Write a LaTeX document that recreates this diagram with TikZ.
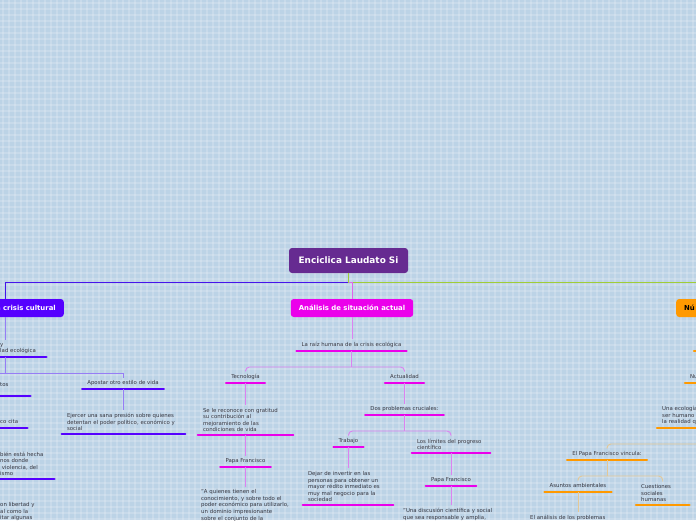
\documentclass[tikz,border=0pt]{standalone}
\usepackage{fontspec}
\setmainfont{DejaVu Sans}
\usetikzlibrary{positioning}
\definecolor{bgblue}{RGB}{188,211,230}
\definecolor{laudatopurple}{RGB}{102,43,145}
\definecolor{crisisblue}{RGB}{85,0,255}
\definecolor{analisismag}{RGB}{235,0,235}
\definecolor{nucleoorange}{RGB}{255,153,0}
\definecolor{mainblue}{RGB}{70,20,235}
\definecolor{maingreen}{RGB}{160,205,55}
\definecolor{mainmag}{RGB}{225,100,235}
\definecolor{crisislink}{RGB}{150,125,245}
\definecolor{analisislink}{RGB}{220,130,240}
\definecolor{nucleolink}{RGB}{228,200,150}
\definecolor{textgray}{RGB}{55,55,65}

\begin{document}
\begin{tikzpicture}[x=1pt, y=-1pt,
    mainbox/.style={rectangle, rounded corners=3pt, fill=#1, text=white, font=\fontsize{6.9}{8}\selectfont\bfseries, minimum height=18pt, inner xsep=8pt},
    topic/.style={font=\fontsize{5.4}{6.6}\selectfont, text=textgray, inner xsep=5pt, inner ysep=2.8pt, align=center,
      append after command={(\tikzlastnode.south west) edge[draw=#1, line width=2.5pt, line cap=round] (\tikzlastnode.south east)}},
    oneline/.style={text depth=1.2pt},
    crisistopic/.style={topic=crisisblue},
    analisistopic/.style={topic=analisismag},
    nucleotopic/.style={topic=nucleoorange},
    link/.style={draw=#1, line width=0.9pt},
    crisislink/.style={link=crisislink},
    analisislink/.style={link=analisislink},
    nucleolink/.style={link=nucleolink}
  ]
    \useasboundingbox (0,0) rectangle (696,520);
    \clip (0,0) rectangle (696,520);
    % grid paper
    \fill[bgblue] (0,0) rectangle (696,520);
    \foreach \gx in {3,9,...,693} \draw[white, opacity=0.18, line width=2.5pt] (\gx,0) -- (\gx,520);
    \foreach \gy in {3,9,...,519} \draw[white, opacity=0.18, line width=2.5pt] (0,\gy) -- (696,\gy);

    % main topics
    \node[mainbox=laudatopurple, font=\fontsize{8.9}{10}\selectfont\bfseries, minimum height=25pt, minimum width=119pt] (laudato) at (348.5,260.5) {Enciclica Laudato Si};
    \node[mainbox=crisisblue, anchor=east, text width=100pt, align=right] (crisis) at (64,308) {la crisis cultural};
    \node[mainbox=analisismag, minimum width=122pt] (analisis) at (352,308) {Análisis de situación actual};
    \node[mainbox=nucleoorange, text=black, anchor=west, text width=60pt, align=left] (nucleo) at (676,308) {Nú};
    \draw[mainblue, line width=1.3pt] (laudato.south) -- ++(0,9) -| (crisis.north);
    \draw[maingreen, line width=1.3pt] (laudato.south) -- ++(0,9) -| (nucleo.north);
    \draw[mainmag, line width=0.9pt] (laudato.south) ++(0,9) -| (analisis.north);

    % crisis cultural
    \node[crisistopic, anchor=south west, text width=41pt, align=left] (educacion) at (-5,357) {y\\lad ecológica};
    \node[crisistopic, oneline, anchor=south] (apostar) at (123,389) {Apostar otro estilo de vida};
    \node[crisistopic, anchor=south, text width=113pt, align=left] (ejercer) at (123.5,434) {Ejercer una sana presión sobre quienes\\detentan el poder político, económico y\\social};
    \node[crisistopic, anchor=south west, text width=25pt, align=left] (tos) at (-5,396) {tos\\\mbox{}};
    \node[crisistopic, oneline, anchor=south west, text width=22pt, align=left] (cita) at (-5,428) {co cita};
    \node[crisistopic, anchor=south west, text width=49pt, align=left] (hecha) at (-5,479) {bién está hecha\\nos donde\\~violencia, del\\ismo};
    \node[crisistopic, anchor=north west, text width=60pt, align=left] (libertad) at (-5,499.5) {on libertad y\\al como la\\itar algunas};
    \coordinate (crisisleft) at (-20,373);
    \draw[crisislink] (crisis.south) -- (crisis.south |- educacion.north);
    \draw[crisislink] (crisis.south |- educacion.south) -- ++(0,16) coordinate (crisisfork);
    \draw[crisislink] (crisisfork) -| (apostar.north);
    \draw[crisislink] (crisisfork) -- (crisisleft);
    \draw[crisislink] (apostar.south) -- (apostar.south |- ejercer.north);

    % analisis de situacion actual
    \node[analisistopic, oneline, anchor=south] (raiz) at (351.5,351) {La raíz humana de la crisis ecológica};
    \node[analisistopic, oneline, anchor=south] (tecnologia) at (245.5,383) {Tecnología};
    \node[analisistopic, oneline, anchor=south] (actualidad) at (404.5,383) {Actualidad};
    \node[analisistopic, anchor=south, text width=85pt, align=left] (reconoce) at (245.5,435) {Se le reconoce con gratitud\\su contribución al\\mejoramiento de las\\condiciones de vida};
    \node[analisistopic, oneline, anchor=south] (papaA) at (245.5,467) {Papa Francisco};
    \node[analisistopic, anchor=north west, text width=100pt, align=left] (quienes) at (196,486.5) {"A quienes tienen el\\conocimiento, y sobre todo el\\poder económico para utilizarlo,\\un dominio impresionante\\sobre el conjunto de la};
    \node[analisistopic, oneline, anchor=south] (dos) at (404.5,415) {Dos problemas cruciales:};
    \node[analisistopic, oneline, anchor=south] (trabajo) at (348.5,447) {Trabajo};
    \node[analisistopic, anchor=south, text width=80pt, align=left] (dejar) at (348,505) {Dejar de invertir en las\\personas para obtener un\\mayor rédito inmediato es\\muy mal negocio para la\\sociedad};
    \node[analisistopic, anchor=south, text width=68pt, align=left] (limites) at (451,453) {Los límites del progreso\\científico};
    \node[analisistopic, oneline, anchor=south] (papaB) at (451,486) {Papa Francisco};
    \node[analisistopic, anchor=north west, text width=110pt, align=left] (discusion) at (398,505.4) {"Una discusión científica y social\\que sea responsable y amplia,};
    \draw[analisislink] (analisis.south) -- (analisis.south |- raiz.north);
    \draw[analisislink] (raiz.south) -- ++(0,16) coordinate (raizfork);
    \draw[analisislink, rounded corners=4pt] (raizfork) -| (tecnologia.north);
    \draw[analisislink, rounded corners=4pt] (raizfork) -| (actualidad.north);
    \draw[analisislink] (tecnologia.south) -- (reconoce.north);
    \draw[analisislink] (reconoce.south) -- (papaA.north);
    \draw[analisislink] (papaA.south) -- (papaA.south |- quienes.north);
    \draw[analisislink] (actualidad.south) -- (dos.north);
    \draw[analisislink] (dos.south) -- ++(0,16) coordinate (dosfork);
    \draw[analisislink, rounded corners=4pt] (dosfork) -| (trabajo.north);
    \draw[analisislink, rounded corners=4pt] (dosfork) -| (limites.north);
    \draw[analisislink] (trabajo.south) -- (trabajo.south |- dejar.north);
    \draw[analisislink] (limites.south) -- (papaB.north);
    \draw[analisislink] (papaB.south) -- (papaB.south |- discusion.north);

    % nucleo
    \node[nucleotopic, oneline, anchor=south west, text width=40pt, align=left] (nucleoA) at (694,351) {\mbox{}};
    \node[nucleotopic, oneline, anchor=south west, text width=50pt, align=left] (nu) at (685,383) {Nu};
    \node[nucleotopic, anchor=south west, text width=80pt, align=left] (ecologia) at (657,428) {Una ecología\\ser humano\\la realidad q};
    \node[nucleotopic, oneline, anchor=south] (vincula) at (607,460) {El Papa Francisco vincula:};
    \node[nucleotopic, oneline, anchor=south] (ambientales) at (578,492) {Asuntos ambientales};
    \node[nucleotopic, anchor=south west, text width=43pt, align=left] (cuestiones) at (636,505) {Cuestiones\\sociales\\humanas};
    \node[nucleotopic, anchor=north west, text width=100pt, align=left] (problemas) at (525,511.7) {El análisis de los problemas};
    \draw[nucleolink] (nucleo.south) -- (nucleoA.north);
    \draw[nucleolink] (nucleoA.south) -- (nu.north);
    \draw[nucleolink] (nu.south) -- (ecologia.north);
    \draw[nucleolink] (ecologia.south) -- ++(0,16) coordinate (ecologiafork);
    \draw[nucleolink, rounded corners=4pt] (ecologiafork) -| (vincula.north);
    \draw[nucleolink] (vincula.south) -- ++(0,16) coordinate (vinculafork);
    \draw[nucleolink, rounded corners=4pt] (vinculafork) -| (ambientales.north);
    \draw[nucleolink, rounded corners=4pt] (vinculafork) -| (cuestiones.north);
    \draw[nucleolink] (ambientales.south) -- (ambientales.south |- problemas.north);
  \end{tikzpicture}
\end{document}
